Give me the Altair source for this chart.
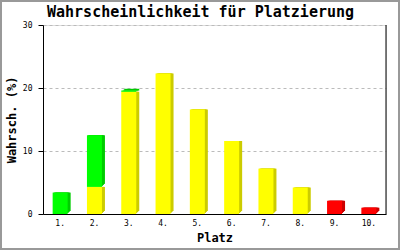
import altair as alt
import pandas as pd

platz = ["1.", "2.", "3.", "4.", "5.", "6.", "7.", "8.", "9.", "10."]
gelb = [0, 4.3, 19.4, 22.3, 16.6, 11.6, 7.2, 4.2, 0, 0]
gruen = [3.4, 8.2, 0.2, 0, 0, 0, 0, 0, 0, 0]
rot = [0, 0, 0, 0, 0, 0, 0, 0, 2.1, 1.0]
titel = "Wahrscheinlichkeit für Platzierung"

rows = []
for i, p in enumerate(platz):
    base = 0.0
    for name, series in (("gelb", gelb), ("gruen", gruen), ("rot", rot)):
        v = series[i]
        if v > 0:
            rows.append({"platz": p, "farbe": name, "start": base, "end": base + v})
            base += v
df = pd.DataFrame(rows)
one = pd.DataFrame({"t": [titel]})

W, H = 343, 189
MONO = "DejaVu Sans Mono"

x_enc = alt.X("platz:N", sort=platz, title="Platz",
              scale=alt.Scale(paddingInner=0, paddingOuter=0),
              axis=alt.Axis(labelAngle=0, ticks=False, labelPadding=5, domainColor="black",
                            labelFont=MONO, labelFontSize=8, labelColor="black",
                            titleFont=MONO, titleFontSize=12, titleFontWeight="bold",
                            titleColor="black", titlePadding=5, grid=False))
y_enc = alt.Y("start:Q", scale=alt.Scale(domain=[0, 30], nice=False),
              title="Wahrsch. (%)",
              axis=alt.Axis(values=[0, 10, 20, 30], tickSize=5, tickColor="black",
                            domainColor="black", labelFont=MONO, labelFontSize=8,
                            labelColor="black", labelPadding=6,
                            titleFont=MONO, titleFontSize=12, titleFontWeight="bold",
                            titleColor="black", titlePadding=4,
                            grid=True, gridColor="#bbbbbb", gridDash=[3, 3]))

dom = ["gelb", "gruen", "rot"]
front_range = ["#ffff00", "#00ff00", "#ff0000"]
dark_range = ["#cccc00", "#00cc00", "#cc0000"]

layers = []
for off in (3, 2, 1):
    layers.append(
        alt.Chart(df).mark_bar(size=15, xOffset=off, yOffset=-off).encode(
            x=x_enc, y=y_enc, y2="end:Q",
            color=alt.Color("farbe:N", scale=alt.Scale(domain=dom, range=dark_range), legend=None),
        )
    )
front = alt.Chart(df).mark_bar(size=15).encode(
    x=x_enc, y=y_enc, y2="end:Q",
    color=alt.Color("farbe:N", scale=alt.Scale(domain=dom, range=front_range), legend=None),
)

right_line = alt.Chart(one).mark_rule(color="black", strokeWidth=1).encode(
    x=alt.value(W), y=alt.value(0), y2=alt.value(H)
)
border = alt.Chart(one).mark_rect(fill=None, stroke="#999999", strokeWidth=2).encode(
    x=alt.value(-42), x2=alt.value(W + 13), y=alt.value(-24), y2=alt.value(H + 35)
)
title_mark = alt.Chart(one).mark_text(font=MONO, fontSize=15, fontWeight="bold", color="black",
                                      align="center", baseline="alphabetic").encode(
    x=alt.value(W / 2 - 14), y=alt.value(-8), text="t:N"
)

chart = alt.layer(*layers, front, right_line, border, title_mark).resolve_scale(
    color="independent"
).properties(
    width=W, height=H,
    autosize=alt.AutoSizeParams(type="none"),
    padding={"left": 43, "top": 25, "right": 14, "bottom": 36},
).configure_view(stroke=None).configure(background="white")

chart.save("out.html", embed_options={"renderer": "svg", "actions": False})
